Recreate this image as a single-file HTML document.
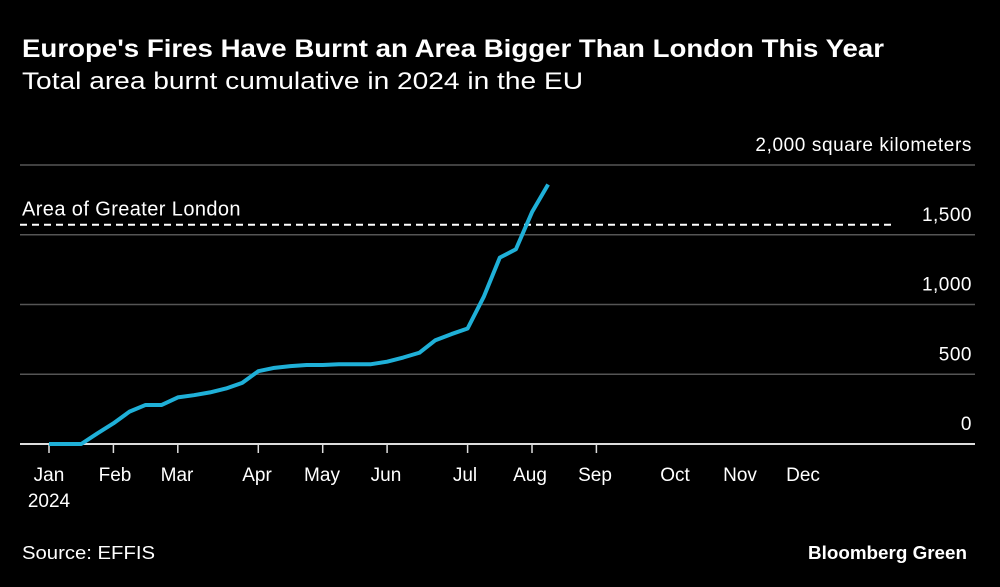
<!DOCTYPE html>
<html><head><meta charset="utf-8"><style>
body{margin:0;background:#000;width:1000px;height:587px;overflow:hidden;font-family:"Liberation Sans",sans-serif;color:#fff}
svg{position:absolute;left:0;top:0}
</style></head><body>
<svg width="1000" height="587">
<text x="22" y="57" font-size="25" font-weight="bold" fill="#fff" textLength="862" lengthAdjust="spacingAndGlyphs">Europe's Fires Have Burnt an Area Bigger Than London This Year</text>
<text x="22" y="89" font-size="24" fill="#fff" textLength="561" lengthAdjust="spacingAndGlyphs">Total area burnt cumulative in 2024 in the EU</text>
<g id="grid"></g>
<g id="xaxis"></g>
<g id="ref"></g>
<polyline id="line" fill="none" stroke="#1fb0d8" stroke-width="4" stroke-linejoin="round"/>
<text x="22" y="559" font-size="18" fill="#fff" textLength="133" lengthAdjust="spacingAndGlyphs">Source: EFFIS</text>
<text x="808" y="559" font-size="18" font-weight="bold" fill="#fff" textLength="159" lengthAdjust="spacingAndGlyphs">Bloomberg Green</text>
</svg>
<script>
const weeks=[0,1,2,3,4,5,6,7,8,9,10,11,12,13,14,15,16,17,18,19,20,21,22,23,24,25,26,27,28,29,30,31];
const values=[0,0,0,76,148,232,280,280,334,350,370,398,438,522,546,558,566,566,572,572,572,590,620,654,744,788,828,1054,1336,1396,1662,1860];
const yTicks=[0,500,1000,1500,2000];
const yTickLabels=["0","500","1,000","1,500","2,000 square kilometers"];
const monthTickWeeks=[0,4,8,13,17,21,26,30,34];
const monthLabels=["Jan","Feb","Mar","Apr","May","Jun","Jul","Aug","Sep","Oct","Nov","Dec"];
const monthLabelX=[49,115,177,257,322,386,465,530,595,675,740,803];
const londonArea=1572;
const NS="http://www.w3.org/2000/svg";
const x=w=>49+w*16.1;
const y=v=>444-v*0.1395;
function mk(tag,attrs,parent,txt){const e=document.createElementNS(NS,tag);for(const k in attrs)e.setAttribute(k,attrs[k]);if(txt!==undefined)e.textContent=txt;parent.appendChild(e);return e;}
const grid=document.getElementById('grid');
yTicks.forEach((t,i)=>{
  const l=mk('line',{x1:20,x2:975,y1:y(t),y2:y(t),stroke:t===0?'#ddd':'#555','stroke-width':t===0?2:1.5},grid);
  
  
  const tx=mk('text',{x:972,y:y(t)-14,'font-size':19,'text-anchor':'end',fill:'#fff','letter-spacing':t===2000?0.6:0.5},grid,yTickLabels[i]);
  
  
});
const xa=document.getElementById('xaxis');
monthTickWeeks.forEach(w=>{
  const l=mk('line',{x1:x(w),x2:x(w),y1:444,y2:453,stroke:'#ddd','stroke-width':1.5},xa);
  
  
});
monthLabels.forEach((m,i)=>{
  const t=mk('text',{x:monthLabelX[i],y:481,'font-size':19,'text-anchor':'middle',fill:'#fff'},xa,m);
  
  
});
const yr=mk('text',{x:49,y:507,'font-size':19,'text-anchor':'middle',fill:'#fff'},xa,'2024');


const ref=document.getElementById('ref');
const dl=mk('line',{x1:20,x2:892,y1:y(londonArea),y2:y(londonArea),stroke:'#fff','stroke-width':2,'stroke-dasharray':'7,5'},ref);


const dt=mk('text',{x:22,y:y(londonArea)-9,'font-size':20,fill:'#fff','letter-spacing':0.4},ref,'Area of Greater London');


document.getElementById('line').setAttribute('points',weeks.map((w,i)=>x(w)+','+y(values[i])).join(' '));
</script>
</body></html>
